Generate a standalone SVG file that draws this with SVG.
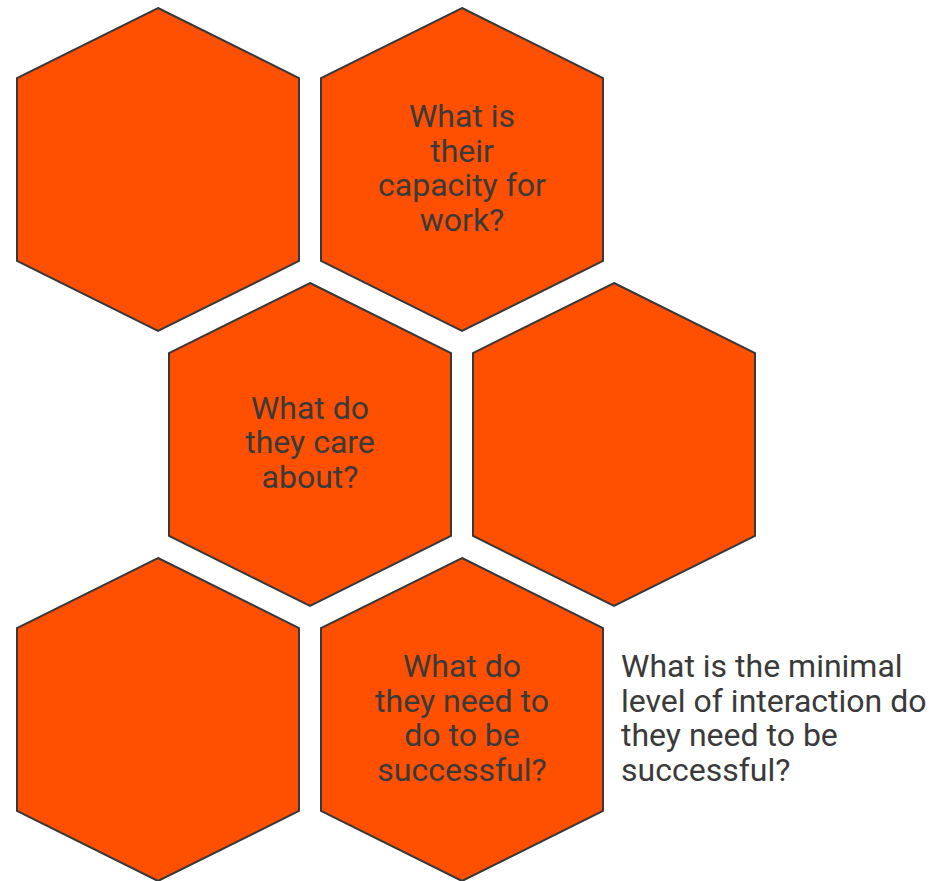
<svg xmlns="http://www.w3.org/2000/svg" width="933" height="881" viewBox="0 0 933 881">
<defs>
<style>
.hex{fill:#FF4F00;stroke:#383838;stroke-width:2;stroke-linejoin:miter}
.t{font-family:Roboto,"Liberation Sans",sans-serif;font-size:32px;fill:#3a3a3a;text-anchor:middle}
.r{font-family:Roboto,"Liberation Sans",sans-serif;font-size:32px;fill:#3a3a3a}
</style>
<polygon id="hexshape" points="0,0 141,70 141,253 0,323 -141,253 -141,70"/>
</defs>
<g id="node1"><use href="#hexshape" class="hex" x="158" y="8"/></g>
<g id="node2"><use href="#hexshape" class="hex" x="462" y="8"/>
<text class="t" x="462" y="127">What is</text>
<text class="t" x="462" y="161.5">their</text>
<text class="t" x="462" y="196">capacity for</text>
<text class="t" x="462" y="230.5">work?</text></g>
<g id="node3"><use href="#hexshape" class="hex" x="310" y="283"/>
<text class="t" x="310" y="418.5">What do</text>
<text class="t" x="310" y="453">they care</text>
<text class="t" x="310" y="487.5">about?</text></g>
<g id="node4"><use href="#hexshape" class="hex" x="614" y="283"/></g>
<g id="node5"><use href="#hexshape" class="hex" x="158" y="558"/></g>
<g id="node6"><use href="#hexshape" class="hex" x="462" y="558"/>
<text class="t" x="462" y="677">What do</text>
<text class="t" x="462" y="711.5">they need to</text>
<text class="t" x="462" y="746">do to be</text>
<text class="t" x="462" y="780.5">successful?</text></g>
<g id="label"><text class="r" x="621" y="677">What is the minimal</text>
<text class="r" x="621" y="711.5">level of interaction do</text>
<text class="r" x="621" y="746">they need to be</text>
<text class="r" x="621" y="780.5">successful?</text></g>
<g id="connectors"></g>
</svg>
